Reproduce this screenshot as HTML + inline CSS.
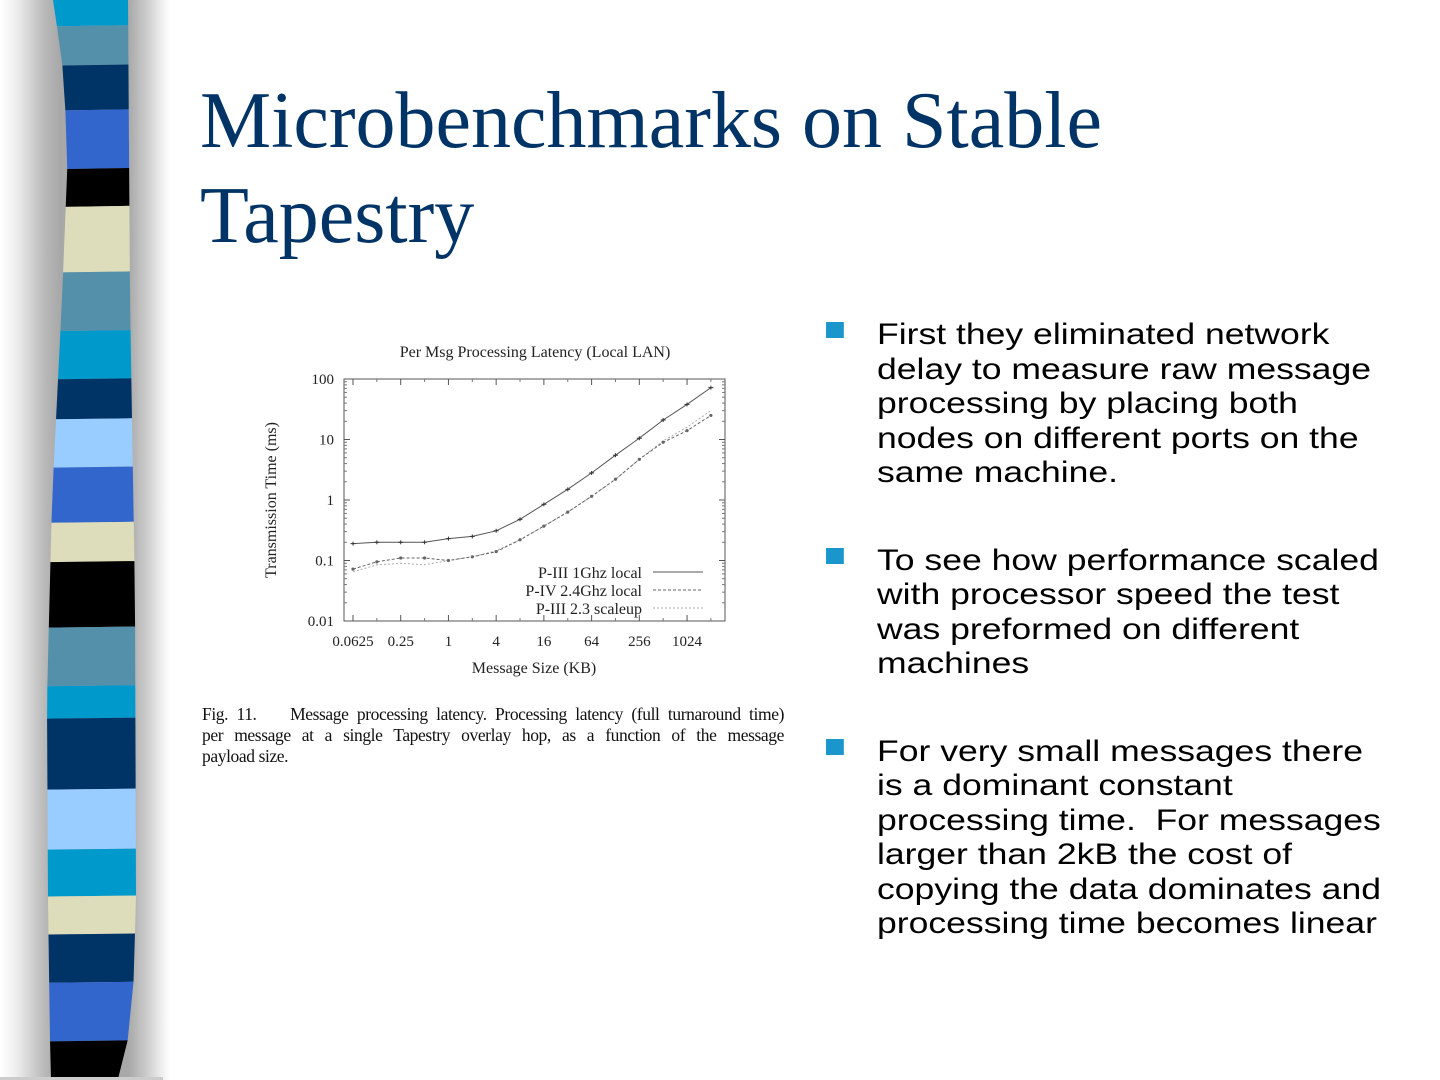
<!DOCTYPE html>
<html><head><meta charset="utf-8">
<style>
html,body{margin:0;padding:0;width:1440px;height:1080px;overflow:hidden;background:#fff;position:relative}
.bg{position:absolute;left:0;top:0;width:170px;height:1080px;background:linear-gradient(to right,#fff 0px,#f0f0f0 15px,#b8b8b8 45px,#a8a8a8 60px,#a8a8a8 128px,#c8c8c8 145px,#f6f6f6 165px,#fff 170px)}
.title{position:absolute;left:200px;top:74px;font-family:"Liberation Serif",serif;font-size:80px;line-height:95px;color:#003366;margin:0;font-weight:normal}
.bullets{position:absolute;left:877px;top:318px;width:434px;font-family:"Liberation Sans",sans-serif;font-size:30px;line-height:34.5px;color:#000;transform:scaleX(1.185);transform-origin:0 0}
.bullets p{margin:0 0 53px 0;position:relative}
.bullets p:before{content:"";position:absolute;left:-43px;top:4px;width:14.5px;height:16px;background:#1a96cc}
.cap{position:absolute;left:202px;top:704px;width:582px;font-family:"Liberation Serif",serif;font-size:17.5px;letter-spacing:-0.4px;line-height:21px;color:#111}
.cap div{white-space:nowrap;text-align:justify;text-align-last:justify}
.cap div.l{text-align-last:left}
</style></head><body>
<div class="bg"></div>
<svg style="position:absolute;left:0;top:0" width="170" height="1080" id="stripes"></svg>
<h1 class="title">Microbenchmarks on Stable<br>Tapestry</h1>
<svg style="position:absolute;left:0;top:0" width="800" height="700" id="chart" font-family="Liberation Serif, serif" fill="#222"></svg>
<div class="cap"><div>Fig. 11.&nbsp;&nbsp;&nbsp; Message processing latency. Processing latency (full turnaround time)</div><div>per message at a single Tapestry overlay hop, as a function of the message</div><div class="l">payload size.</div></div>
<div class="bullets">
<p>First they eliminated network delay to measure raw message processing by placing both nodes on different ports on the same machine.</p>
<p>To see how performance scaled with processor speed the test was preformed on different machines</p>
<p>For very small messages there is a dominant constant processing time.&nbsp; For messages larger than 2kB the cost of copying the data dominates and processing time becomes linear</p>
</div>
<script>
(function(){
var s=document.getElementById('stripes');
var b=[[0,38,'#0099cc'],[38,95,'#5590aa'],[95,160,'#003366'],[160,245,'#3366cc'],[245,300,'#000'],[300,395,'#ddddbb'],[395,480,'#5590aa'],[480,550,'#0099cc'],[550,608,'#003366'],[608,678,'#99ccff'],[678,758,'#3366cc'],[758,815,'#ddddbb'],[815,910,'#000'],[910,995,'#5590aa'],[995,1042,'#0099cc'],[1042,1145,'#003366'],[1145,1232,'#99ccff'],[1232,1300,'#0099cc'],[1300,1355,'#ddddbb'],[1355,1425,'#003366'],[1425,1510,'#3366cc'],[1510,1566,'#000']];
function L(y){var p=[[0,53],[60,62],[150,68],[300,62],[500,52],[700,47],[900,48],[1040,50],[1080,51]];for(var i=1;i<p.length;i++)if(y<=p[i][0]){var a=p[i-1],c=p[i];return a[1]+(c[1]-a[1])*(y-a[0])/(c[0]-a[0]);}return 51;}
function R(y){var p=[[0,128],[300,130],[600,135],[900,136],[1000,133],[1040,128],[1080,118]];for(var i=1;i<p.length;i++)if(y<=p[i][0]){var a=p[i-1],c=p[i];return a[1]+(c[1]-a[1])*(y-a[0])/(c[0]-a[0]);}return 118;}
var h='';b.forEach(function(t){var y0=t[0]/1.45,y1=Math.min(t[1]/1.45,1078);h+='<polygon fill="'+t[2]+'" points="'+L(y0)+','+y0+' '+R(y0)+','+(y0-1)+' '+R(y1)+','+(y1-1)+' '+L(y1)+','+y1+'"/>';});
h+='<rect x="0" y="1077" width="163" height="3" fill="#ccc"/>';
s.innerHTML=h;
var c=document.getElementById('chart');
var X0=344,X1=725,Y0=379,Y1=621;
function px(i){return 353+23.86*i;}
function py(v){return Y1-(Math.log10(v)+2)*60.5;}
var g='<text x="535" y="357" font-size="16" text-anchor="middle">Per Msg Processing Latency (Local LAN)</text>';
g+='<rect x="'+X0+'" y="'+Y0+'" width="'+(X1-X0)+'" height="'+(Y1-Y0)+'" fill="none" stroke="#555" stroke-width="1"/>';
var yl=['0.01','0.1','1','10','100'];
for(var k=0;k<5;k++){var y=Y1-k*60.5;g+='<text x="334" y="'+(y+5)+'" font-size="15" text-anchor="end">'+yl[k]+'</text>';
 if(k>0&&k<4){g+='<line x1="'+X0+'" x2="'+(X0+6)+'" y1="'+y+'" y2="'+y+'" stroke="#555"/><line x1="'+X1+'" x2="'+(X1-6)+'" y1="'+y+'" y2="'+y+'" stroke="#555"/>';}
 if(k<4)for(var m=2;m<10;m++){var yy=y-Math.log10(m)*60.5;g+='<line x1="'+X0+'" x2="'+(X0+3)+'" y1="'+yy+'" y2="'+yy+'" stroke="#777"/><line x1="'+X1+'" x2="'+(X1-3)+'" y1="'+yy+'" y2="'+yy+'" stroke="#777"/>';}}
var xl=['0.0625','0.25','1','4','16','64','256','1024'];
for(var k=0;k<8;k++){var x=px(2*k);g+='<text x="'+x+'" y="646" font-size="15" text-anchor="middle">'+xl[k]+'</text><line x1="'+x+'" x2="'+x+'" y1="'+Y1+'" y2="'+(Y1-6)+'" stroke="#555"/><line x1="'+x+'" x2="'+x+'" y1="'+Y0+'" y2="'+(Y0+6)+'" stroke="#555"/>';}
for(var k=0;k<15;k++){var x=px(2*k+1);if(x<X1){g+='<line x1="'+x+'" x2="'+x+'" y1="'+Y1+'" y2="'+(Y1-3)+'" stroke="#777"/><line x1="'+x+'" x2="'+x+'" y1="'+Y0+'" y2="'+(Y0+3)+'" stroke="#777"/>';}}
g+='<text x="534" y="673" font-size="16" text-anchor="middle">Message Size (KB)</text>';
g+='<text transform="translate(276,500) rotate(-90)" font-size="16" text-anchor="middle">Transmission Time (ms)</text>';
var s1=[0.19,0.2,0.2,0.2,0.23,0.25,0.31,0.48,0.85,1.5,2.8,5.5,10.5,21,38,72];
var s2=[0.072,0.095,0.11,0.11,0.1,0.115,0.14,0.22,0.37,0.63,1.15,2.2,4.7,9,14,25];
var s3=[0.065,0.085,0.09,0.085,0.1,0.115,0.145,0.22,0.37,0.63,1.15,2.2,4.7,9.5,16,30];
function path(a,st,da){var d='';a.forEach(function(v,i){d+=(i?'L':'M')+px(i).toFixed(1)+','+py(v).toFixed(1);});return '<path d="'+d+'" fill="none" stroke="'+st+'" stroke-width="1" '+(da?'stroke-dasharray="'+da+'"':'')+'/>';}
g+=path(s3,'#aaa','2,2');g+=path(s2,'#666','3,2');g+=path(s1,'#555','');
s1.forEach(function(v,i){g+='<line x1="'+(px(i)-2.5)+'" x2="'+(px(i)+2.5)+'" y1="'+py(v)+'" y2="'+py(v)+'" stroke="#333"/><line x1="'+px(i)+'" x2="'+px(i)+'" y1="'+(py(v)-2)+'" y2="'+(py(v)+2)+'" stroke="#333"/>';});
s2.forEach(function(v,i){g+='<circle cx="'+px(i)+'" cy="'+py(v)+'" r="1.6" fill="#666"/>';});
g+='<text x="642" y="578" font-size="16" text-anchor="end">P-III 1Ghz local</text><line x1="653" x2="703" y1="572" y2="572" stroke="#555"/>';
g+='<text x="642" y="596" font-size="16" text-anchor="end">P-IV 2.4Ghz local</text><line x1="653" x2="703" y1="590" y2="590" stroke="#666" stroke-dasharray="3,2"/>';
g+='<text x="642" y="614" font-size="16" text-anchor="end">P-III 2.3 scaleup</text><line x1="653" x2="703" y1="608" y2="608" stroke="#aaa" stroke-dasharray="2,2"/>';
c.innerHTML=g;
})();
</script>
</body></html>
